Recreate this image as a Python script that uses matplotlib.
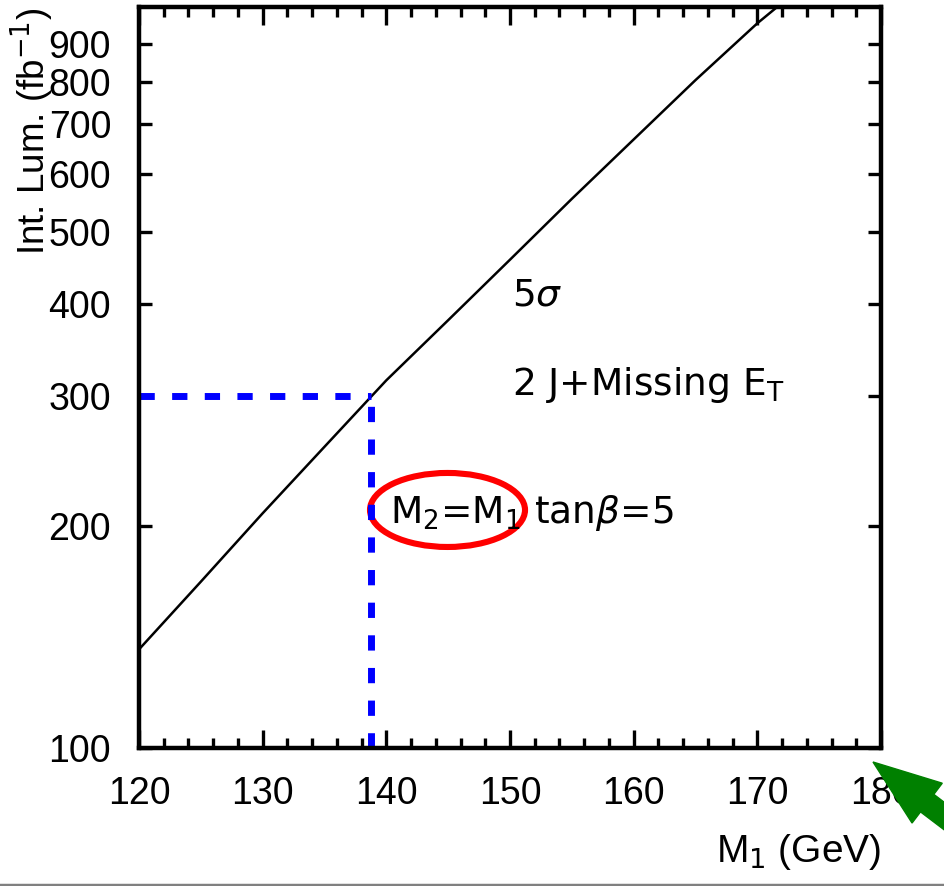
import matplotlib
matplotlib.use("Agg")
import matplotlib.pyplot as plt
from matplotlib.patches import Ellipse, FancyArrow
from matplotlib.lines import Line2D
from matplotlib.ticker import FixedLocator, MultipleLocator, NullLocator, FixedFormatter
from matplotlib.transforms import IdentityTransform

# 5 sigma discovery curve, 2 J + missing ET
m1 = [120, 125, 130, 135, 140, 145, 150, 155, 160, 165, 170, 172]
lumi = [136, 168, 208, 256, 315, 380, 459, 555, 668, 804, 960, 1023]

# highlighted point on the curve
m1_mark = 138.8
lumi_mark = 300

yticks = [100, 200, 300, 400, 500, 600, 700, 800, 900]
ytick_labels = [str(v) for v in yticks]

plt.rcParams['font.family'] = ['Liberation Sans', 'DejaVu Sans']
plt.rcParams['mathtext.fontset'] = 'dejavusans'

fig = plt.figure(figsize=(9.44, 8.86), dpi=100)
ax = fig.add_axes([0.1472, 0.1558, 0.7861, 0.8363])

ax.plot(m1, lumi, color='black', lw=1.8)
ax.plot([120, m1_mark], [lumi_mark, lumi_mark], color='#0000ff', lw=5, dashes=(2.2, 2.5))
ax.plot([m1_mark, m1_mark], [100, lumi_mark], color='#0000ff', lw=5, dashes=(2.2, 2.5))

ax.set_yscale('log')
ax.set_xlim(120, 180)
ax.set_ylim(100, 1010)

ax.xaxis.set_major_locator(MultipleLocator(10))
ax.xaxis.set_minor_locator(MultipleLocator(2))
ax.yaxis.set_major_locator(FixedLocator(yticks))
ax.yaxis.set_major_formatter(FixedFormatter(ytick_labels))
ax.yaxis.set_minor_locator(NullLocator())

ax.tick_params(which='both', direction='in', top=True, right=True, width=2.4,
               labelsize=27, pad=20)
ax.tick_params(axis='x', which='major', length=13)
ax.tick_params(axis='x', which='minor', length=7)
ax.tick_params(axis='y', which='major', length=9.5)
for s in ax.spines.values():
    s.set_linewidth(3.2)

ax.set_xlabel(r'M$_1$ (GeV)', fontsize=28, ha='right', va='baseline')
ax.xaxis.set_label_coords(1.0, -0.154)
ax.set_ylabel(r'Int. Lum. (fb$^{-1}$)', fontsize=26.5)
ax.yaxis.set_label_coords(-0.112, 0.832)

txt = dict(fontsize=27, family='DejaVu Sans', va='baseline')
ax.text(150.15, 398, r'5$\sigma$', **txt)
ax.text(150.15, 301, r'2 J+Missing E$_\mathrm{T}$', **txt)
ax.text(140.3, 202, r'M$_2$=M$_1$ tan$\beta$=5', **txt)

ax.add_patch(Ellipse((0.4158, 0.3212), 0.2089, 0.0999, transform=ax.transAxes,
                     fill=False, edgecolor='#ff0000', lw=4.4, clip_on=False))

# green pointer arrow in the bottom right corner (pixels)
arrow = FancyArrow(1010, 20, -137, 104, width=22, head_width=50, head_length=68,
                   length_includes_head=True, color='#008000',
                   transform=IdentityTransform())
fig.add_artist(arrow)

fig.add_artist(Line2D([0, 1], [0.0015, 0.0015], transform=fig.transFigure,
                      color='#808080', lw=2.5))

fig.savefig('out.png', dpi=100)
